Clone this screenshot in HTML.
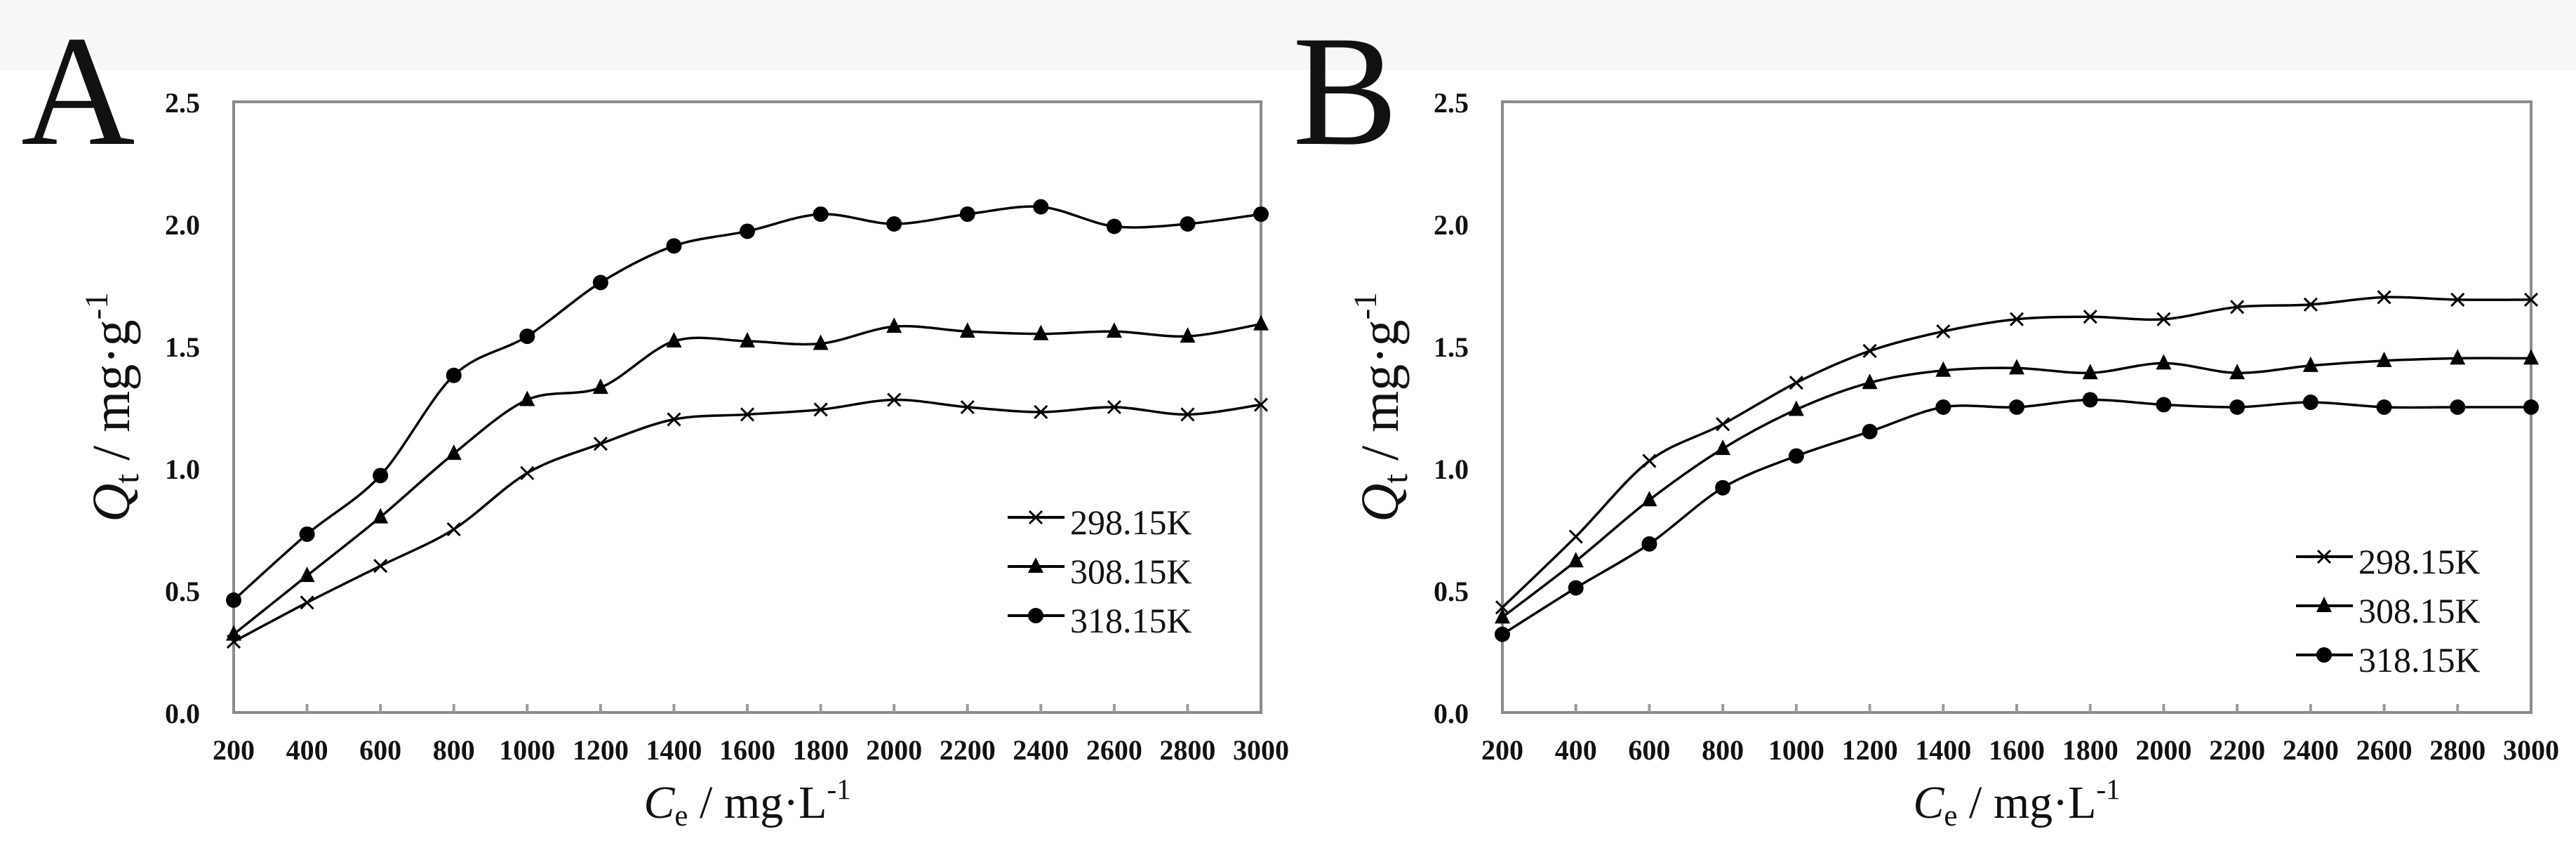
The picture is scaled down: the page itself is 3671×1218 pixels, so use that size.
<!DOCTYPE html>
<html><head><meta charset="utf-8"><style>
html,body{margin:0;padding:0;background:#fff;}
svg{display:block;}
text{font-family:"Liberation Serif",serif;fill:#111;}
</style></head><body>
<svg id="fig" width="3671" height="1218" viewBox="0 0 3671 1218">
<rect x="0" y="0" width="3671" height="100" fill="#f7f7f7"/>
<rect x="0" y="100" width="3671" height="1118" fill="#fff"/>
</svg>
<script>
const categories=[200,400,600,800,1000,1200,1400,1600,1800,2000,2200,2400,2600,2800,3000];
const yTicks=[0,0.5,1.0,1.5,2.0,2.5];
const seriesNames=["298.15K","308.15K","318.15K"];
const markers=["x","tri","circle"];
const a298=[0.29,0.45,0.60,0.75,0.98,1.10,1.20,1.22,1.24,1.28,1.25,1.23,1.25,1.22,1.26];
const a308=[0.32,0.56,0.80,1.06,1.28,1.33,1.52,1.52,1.51,1.58,1.56,1.55,1.56,1.54,1.59];
const a318=[0.46,0.73,0.97,1.38,1.54,1.76,1.91,1.97,2.04,2.00,2.04,2.07,1.99,2.00,2.04];
const b298=[0.43,0.72,1.03,1.18,1.35,1.48,1.56,1.61,1.62,1.61,1.66,1.67,1.70,1.69,1.69];
const b308=[0.39,0.62,0.87,1.08,1.24,1.35,1.40,1.41,1.39,1.43,1.39,1.42,1.44,1.45,1.45];
const b318=[0.32,0.51,0.69,0.92,1.05,1.15,1.25,1.25,1.28,1.26,1.25,1.27,1.25,1.25,1.25];

const NS="http://www.w3.org/2000/svg";
const svg=document.getElementById('fig');
function mk(tag,attrs,parent){const e=document.createElementNS(NS,tag);for(const k in attrs)e.setAttribute(k,attrs[k]);(parent||svg).appendChild(e);return e;}

function drawMarker(g,type,x,y){
  let m;
  if(type==="circle"){m=mk('circle',{cx:x,cy:y,r:11,fill:'#000'},g);}
  else if(type==="tri"){m=mk('polygon',{points:`${x},${y-13} ${x-11},${y+9} ${x+11},${y+9}`,fill:'#000'},g);}
  else{m=mk('path',{d:`M${x-9},${y-9}L${x+9},${y+9}M${x-9},${y+9}L${x+9},${y-9}`,stroke:'#000','stroke-width':3,fill:'none'},g);}
  return m;
}

function smoothPath(pts){
  let d=`M${pts[0][0]},${pts[0][1]}`;
  for(let i=0;i<pts.length-1;i++){
    const p0=pts[Math.max(0,i-1)],p1=pts[i],p2=pts[i+1],p3=pts[Math.min(pts.length-1,i+2)];
    const t=0.16;
    const c1x=p1[0]+(p2[0]-p0[0])*t,c1y=p1[1]+(p2[1]-p0[1])*t;
    const c2x=p2[0]-(p3[0]-p1[0])*t,c2y=p2[1]-(p3[1]-p1[1])*t;
    d+=`C${c1x},${c1y} ${c2x},${c2y} ${p2[0]},${p2[1]}`;
  }
  return d;
}

function chart(opt){
  const {id,L,R,T,B,letter,letterX,data,legX,legY}=opt;
  const g=mk('g',{});
  
  
  const xs=i=>L+(R-L)*i/(categories.length-1);
  const ys=v=>B-(B-T)*v/2.5;
  const lt=mk('text',{x:letterX,y:205,'font-size':225},g);lt.textContent=letter;
  
  
  const frame=mk('rect',{x:L,y:T,width:R-L,height:B-T,fill:'none',stroke:'#8a8a8a','stroke-width':4},g);
  
  
  categories.forEach((c,i)=>{
    const x=xs(i);
    if(i>0&&i<categories.length-1) mk('line',{x1:x,y1:B,x2:x,y2:B-12,stroke:'#9a9a9a','stroke-width':4},g);
    const t=mk('text',{x:x,y:1082,'font-size':40,'font-weight':'bold','text-anchor':'middle'},g);
    t.textContent=c;
    
    
  });
  yTicks.forEach(v=>{
    const t=mk('text',{x:L-48,y:ys(v)+15,'font-size':40,'font-weight':'bold','text-anchor':'end'},g);
    t.textContent=v.toFixed(1);
    
    
  });
  const xt=mk('text',{x:(L+R)/2,y:1165,'font-size':66,'text-anchor':'middle'},g);
  xt.innerHTML='<tspan font-style="italic">C</tspan><tspan font-size="43" dy="11">e</tspan><tspan dy="-11"> / mg·L</tspan><tspan font-size="41" dy="-27">-1</tspan>';
  
  
  const cy=(T+B)/2, cx=L-175;
  const yt=mk('text',{x:cx,y:cy+26,'font-size':76,'text-anchor':'middle',transform:`rotate(-90 ${cx} ${cy})`},g);
  yt.innerHTML='<tspan font-style="italic">Q</tspan><tspan font-size="50" dy="13">t</tspan><tspan dy="-13"> / mg·g</tspan><tspan font-size="47" dy="-31">-1</tspan>';
  
  
  data.forEach((vals,s)=>{
    const sg=mk('g',{},g);
    
    
    const pts=vals.map((v,i)=>[xs(i),ys(v)]);
    mk('path',{d:smoothPath(pts),fill:'none',stroke:'#000','stroke-width':3.5},sg);
    pts.forEach(p=>{
      const m=drawMarker(sg,markers[s],p[0],p[1]);
      
      
    });
    const ly=legY+s*70;
    const lg=mk('g',{},g);
    
    
    mk('line',{x1:legX,y1:ly,x2:legX+81,y2:ly,stroke:'#000','stroke-width':4},lg);
    drawMarker(lg,markers[s],legX+40,ly);
    const t=mk('text',{x:legX+89,y:ly+24,'font-size':50},lg);
    t.textContent=seriesNames[s];
  });
}
chart({id:'chart-a',L:333,R:1797,T:145,B:1015,letter:'A',letterX:30,data:[a298,a308,a318],legX:1436,legY:737});
chart({id:'chart-b',L:2141,R:3607,T:145,B:1015,letter:'B',letterX:1842,data:[b298,b308,b318],legX:3272,legY:793});
</script>
</body></html>
